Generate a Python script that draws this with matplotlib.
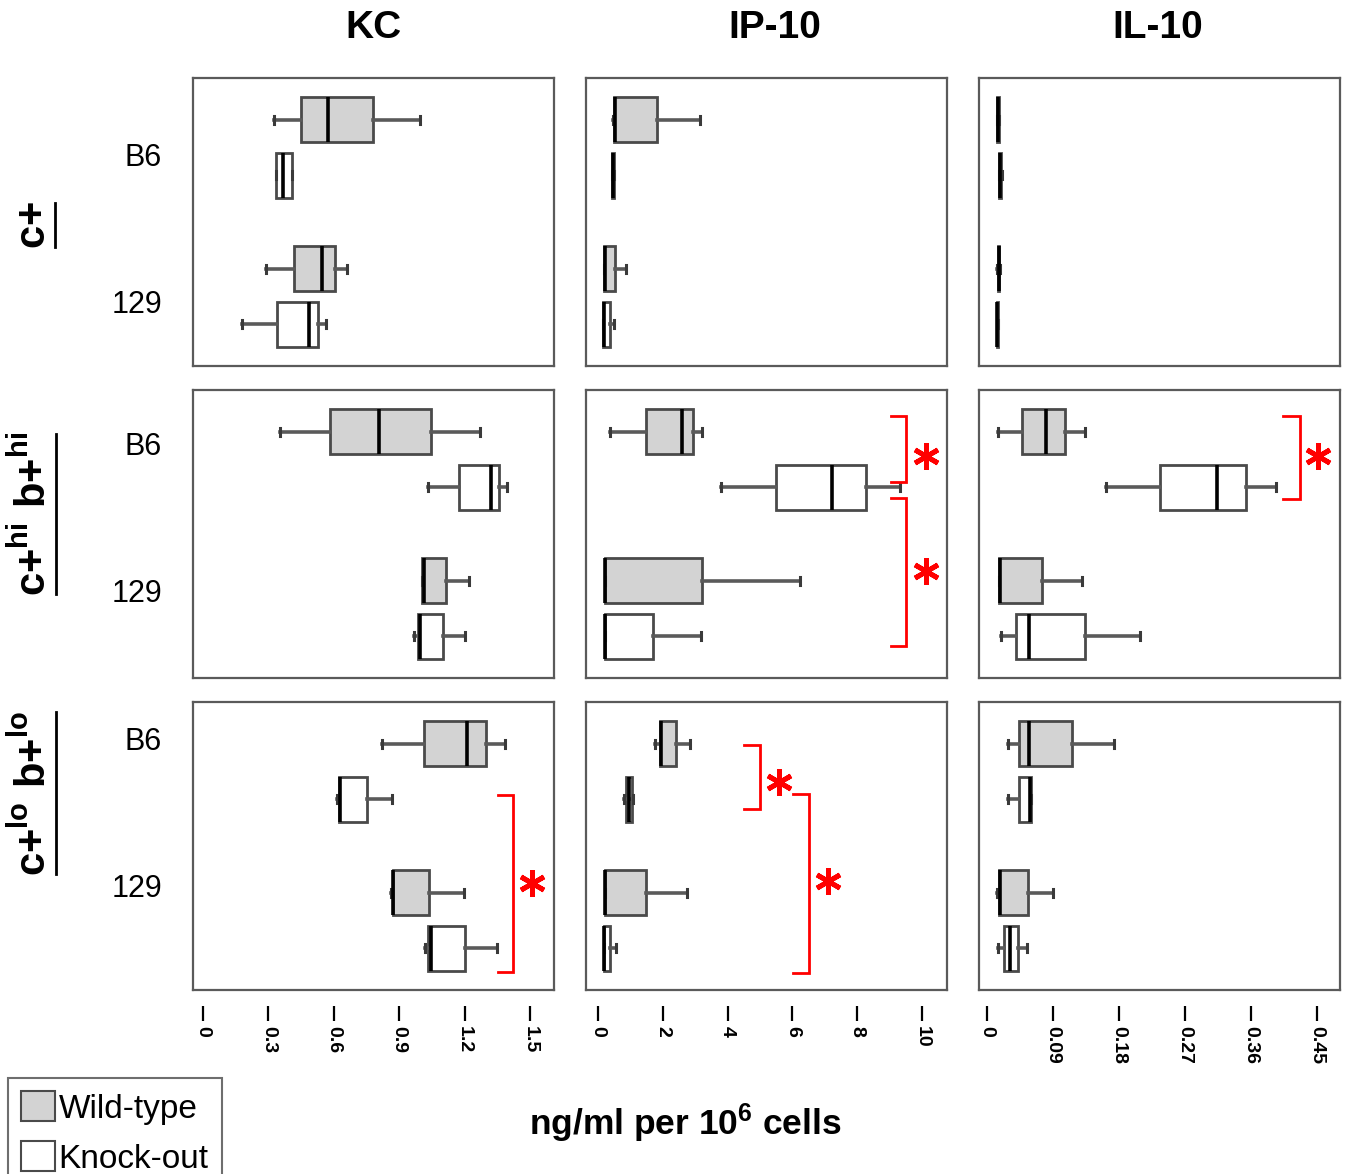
import matplotlib
matplotlib.use("Agg")
import matplotlib.pyplot as plt
from matplotlib.patches import Patch
from matplotlib.lines import Line2D

plt.rcParams['font.family'] = ['Liberation Sans', 'DejaVu Sans']
plt.rcParams['mathtext.fontset'] = 'custom'
plt.rcParams['mathtext.rm'] = 'Liberation Sans'
plt.rcParams['mathtext.bf'] = 'Liberation Sans:bold'

# ---------------- data ----------------
cytokines = ["KC", "IP-10", "IL-10"]
row_groups = [r"$\mathbf{c{+}}$", r"$\mathbf{c{+}^{hi}\ b{+}^{hi}}$", r"$\mathbf{c{+}^{lo}\ b{+}^{lo}}$"]
strains = ["B6", "129"]
genotypes = ["Wild-type", "Knock-out"]
# order inside each list: row1(B6 WT, B6 KO, 129 WT, 129 KO), row2(...), row3(...)
kc_lo  = [0.327, 0.335, 0.289, 0.180, 0.353, 1.034, 1.006, 0.966, 0.821, 0.613, 0.862, 1.018]
kc_q1  = [0.448, 0.335, 0.417, 0.338, 0.583, 1.176, 1.006, 0.986, 1.015, 0.622, 0.870, 1.034]
kc_med = [0.572, 0.368, 0.546, 0.485, 0.809, 1.320, 1.014, 0.995, 1.209, 0.628, 0.873, 1.044]
kc_q3  = [0.781, 0.408, 0.604, 0.526, 1.044, 1.359, 1.115, 1.102, 1.298, 0.751, 1.035, 1.202]
kc_hi  = [0.995, 0.408, 0.661, 0.564, 1.271, 1.396, 1.219, 1.203, 1.385, 0.865, 1.197, 1.350]

ip_lo  = [0.46, 0.42, 0.19, 0.16, 0.36, 3.81, 0.21, 0.21, 1.75, 0.79, 0.21, 0.18]
ip_q1  = [0.49, 0.44, 0.19, 0.16, 1.47, 5.50, 0.21, 0.21, 1.90, 0.87, 0.21, 0.18]
ip_med = [0.51, 0.46, 0.21, 0.18, 2.60, 7.21, 0.23, 0.23, 1.94, 0.96, 0.23, 0.20]
ip_q3  = [1.82, 0.48, 0.52, 0.36, 2.93, 8.26, 3.22, 1.70, 2.42, 1.04, 1.49, 0.36]
ip_hi  = [3.14, 0.50, 0.85, 0.48, 3.22, 9.31, 6.24, 3.19, 2.85, 1.08, 2.75, 0.57]

il_lo  = [0.013, 0.016, 0.014, 0.013, 0.0155, 0.162, 0.0164, 0.0186, 0.0282, 0.0282, 0.0132, 0.0155]
il_q1  = [0.014, 0.017, 0.015, 0.0135, 0.0473, 0.236, 0.0164, 0.039, 0.044, 0.044, 0.0164, 0.0236]
il_med = [0.015, 0.018, 0.016, 0.014, 0.080, 0.313, 0.018, 0.0577, 0.0577, 0.058, 0.018, 0.0314]
il_q3  = [0.016, 0.019, 0.017, 0.0145, 0.106, 0.353, 0.0746, 0.134, 0.1155, 0.0595, 0.0555, 0.0418]
il_hi  = [0.017, 0.020, 0.018, 0.015, 0.133, 0.394, 0.130, 0.208, 0.173, 0.0595, 0.0896, 0.054]

kc_ticks = [0, 0.3, 0.6, 0.9, 1.2, 1.5]
kc_ticklabels = ["0", "0.3", "0.6", "0.9", "1.2", "1.5"]
ip_ticks = [0, 2, 4, 6, 8, 10]
ip_ticklabels = ["0", "2", "4", "6", "8", "10"]
il_ticks = [0, 0.09, 0.18, 0.27, 0.36, 0.45]
il_ticklabels = ["0", "0.09", "0.18", "0.27", "0.36", "0.45"]

# significance brackets: (col, row, x_left, x_right, y_top, y_bottom, star_x, star_y)
brackets = [
    (0, 2, 1.353, 1.424, 0.93, 4.11, 1.51, 2.50),
    (1, 1, 9.05, 9.52, -0.29, 0.90, 10.12, 0.44),
    (1, 1, 9.05, 9.52, 1.20, 3.85, 10.12, 2.50),
    (2, 1, 0.404, 0.427, -0.29, 1.21, 0.451, 0.44),
    (1, 2, 4.52, 4.99, 0.02, 1.17, 5.59, 0.69),
    (1, 2, 6.02, 6.51, 0.90, 4.12, 7.10, 2.47),
]

# ---------------- layout ----------------
W, H = 1349, 1174
fig = plt.figure(figsize=(W / 100, H / 100), dpi=100)

col_left = [193, 586, 979]
row_top = [78, 390, 702]
ax_w, ax_h = 361, 288
xlims = [(-0.046, 1.61), (-0.37, 10.77), (-0.0109, 0.481)]
positions = [0, 1, 2.68, 3.68]
colors = ['#d3d3d3', 'white', '#d3d3d3', 'white']

stats_lists = [
    (kc_lo, kc_q1, kc_med, kc_q3, kc_hi),
    (ip_lo, ip_q1, ip_med, ip_q3, ip_hi),
    (il_lo, il_q1, il_med, il_q3, il_hi),
]
ticks = [(kc_ticks, kc_ticklabels), (ip_ticks, ip_ticklabels), (il_ticks, il_ticklabels)]

axes = {}
for r in range(3):
    for c in range(3):
        ax = fig.add_axes([col_left[c] / W, 1 - (row_top[r] + ax_h) / H, ax_w / W, ax_h / H])
        axes[(c, r)] = ax
        lo, q1, med, q3, hi = stats_lists[c]
        stats = []
        for g in range(4):
            i = r * 4 + g
            stats.append(dict(whislo=lo[i], q1=q1[i], med=med[i], q3=q3[i], whishi=hi[i], fliers=[]))
        bp = ax.bxp(stats, positions=positions, widths=0.81, orientation='horizontal',
                    patch_artist=True, showfliers=False, capwidths=0.14,
                    boxprops=dict(edgecolor='#4a4a4a', linewidth=2),
                    medianprops=dict(color='black', linewidth=2.6),
                    whiskerprops=dict(color='#5a5a5a', linewidth=2.6),
                    capprops=dict(color='#3a3a3a', linewidth=2.2))
        for patch, col in zip(bp['boxes'], colors):
            patch.set_facecolor(col)
        ax.set_xlim(*xlims[c])
        ax.set_ylim(4.43, -0.75)
        ax.set_xticks([])
        ax.set_yticks([])
        for sp in ax.spines.values():
            sp.set_color('#5a5a5a')
            sp.set_linewidth(1.6)
        if r == 2:
            sec = ax.secondary_xaxis(-0.056)
            sec.spines['bottom'].set_visible(False)
            sec.set_xticks(ticks[c][0])
            sec.set_xticklabels(ticks[c][1], rotation=270, fontsize=14, fontweight='bold')
            sec.tick_params(axis='x', direction='out', length=11, width=1.6, pad=3, colors='black')

for (c, r, xl, xr, yt, yb, sx, sy) in brackets:
    ax = axes[(c, r)]
    ax.plot([xl, xr, xr, xl], [yt, yt, yb, yb], color='red', lw=2, clip_on=False,
            solid_joinstyle='miter')
    ax.plot([sx], [sy], marker=(6, 2, 0), ms=19, mew=3.5, color='red', clip_on=False)

# column titles
title_x = [373, 775, 1158]
for c in range(3):
    fig.text(title_x[c] / W, 1 - 28 / H, cytokines[c], ha='center', va='center',
             fontsize=28, fontweight='bold')

# strain labels
strain_y = [(158, 305), (447, 594), (742, 889)]
for r in range(3):
    for s in range(2):
        fig.text(162 / W, 1 - strain_y[r][s] / H, strains[s], ha='right', va='center', fontsize=22)

# group labels (rotated, underlined)
group_y = [225, 514, 793]
group_texts = []
for r in range(3):
    t = fig.text(34 / W, 1 - group_y[r] / H, row_groups[r], rotation=90, ha='center', va='center',
                 fontsize=30)
    group_texts.append(t)

# x label
fig.text(685 / W, 1 - 1123 / H, r"ng/ml per $\mathbf{10^{6}}$ cells", ha='center', va='center',
         fontsize=25.5, fontweight='bold')

# legend
handles = [Patch(facecolor='#d3d3d3', edgecolor='#4a4a4a', linewidth=1.5),
           Patch(facecolor='white', edgecolor='#4a4a4a', linewidth=1.5)]
leg = fig.legend(handles, genotypes, loc='upper left', bbox_to_anchor=(8 / W, 1 - 1078 / H),
                 bbox_transform=fig.transFigure, fontsize=24, frameon=True, fancybox=False,
                 edgecolor='#4a4a4a', handlelength=1.0, handleheight=1.0, handletextpad=0.12,
                 borderpad=0.4, labelspacing=0.5, borderaxespad=0)
leg.get_frame().set_linewidth(1.5)

# underline group labels
fig.canvas.draw()
renderer = fig.canvas.get_renderer()
for t in group_texts:
    bb = t.get_window_extent(renderer)
    xline = (bb.x1 + 1) / W
    fig.add_artist(Line2D([xline, xline], [(bb.y0 + 2) / H, (bb.y1 - 2) / H], color='black', lw=2,
                          transform=fig.transFigure))

fig.savefig("out.png", dpi=100)
